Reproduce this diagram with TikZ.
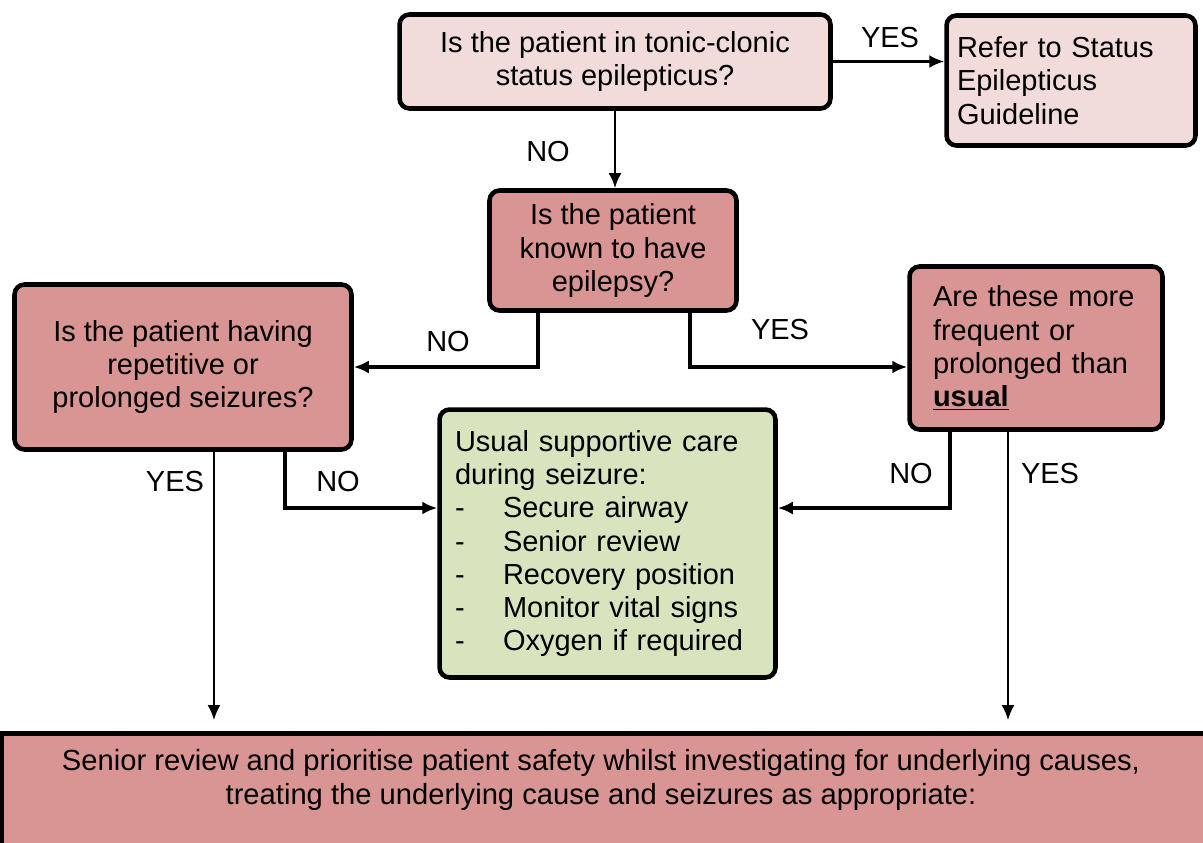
\documentclass[tikz,border=0pt]{standalone}
\usepackage{fontspec}
\setmainfont{Liberation Sans}
\usetikzlibrary{arrows.meta}
\definecolor{palepink}{HTML}{F2DCDB}
\definecolor{rosepink}{HTML}{D99594}
\definecolor{sagegreen}{HTML}{D7E4BD}
\tikzset{
    box/.style={draw, line width=2.6pt, rounded corners=0.2cm, inner sep=0pt,
        font=\fontsize{16.5}{18.9}\selectfont},
    question/.style={box, fill=rosepink, align=center},
    flow/.style={-{Latex[length=0.3cm,width=0.26cm]}, line width=1.6pt},
    boldflow/.style={flow, line width=2.3pt},
    thinflow/.style={flow, line width=1.1pt},
    answer/.style={font=\fontsize{16.5}{18.9}\selectfont}
}
\begin{document}
\begin{tikzpicture}[x=0.02cm, y=-0.02cm]
                \useasboundingbox (0,0) rectangle (1203,842);
                % Top question
                \node[box, fill=palepink, align=center, minimum width=8.62cm, minimum height=1.88cm]
                    (status) at (615,61.5) {Is the patient in tonic-clonic\\status epilepticus?};
                \node[box, fill=palepink, align=left, text width=4.56cm, inner xsep=0.21cm,
                    minimum height=2.6cm] (refer) at (1071,80.5) {Refer to Status\\Epilepticus\\Guideline};
                % Second question
                \node[question, minimum width=4.94cm, minimum height=2.4cm]
                    (known) at (613,250.5) {Is the patient\\known to have\\epilepsy?};
                \node[question, minimum width=6.74cm, minimum height=3.3cm]
                    (repeat) at (183,367) {Is the patient having\\repetitive or\\prolonged seizures?};
                \node[box, fill=rosepink, align=left, text width=4.12cm, inner xsep=0.47cm,
                    minimum height=3.26cm] (usual) at (1036,348)
                    {Are these more\\frequent or\\prolonged than\\\textbf{\underline{usual}}};
                % Supportive care
                \node[box, fill=sagegreen, align=left, text width=6.1cm, inner xsep=0.31cm,
                    minimum height=5.36cm] (care) at (607.5,543.5)
                    {Usual supportive care\\during seizure:\\
                    \makebox[0.96cm][l]{-}Secure airway\\
                    \makebox[0.96cm][l]{-}Senior review\\
                    \makebox[0.96cm][l]{-}Recovery position\\
                    \makebox[0.96cm][l]{-}Monitor vital signs\\
                    \makebox[0.96cm][l]{-}Oxygen if required};
                % Bottom box, runs off the page
                \node[draw, fill=rosepink, line width=2.6pt, anchor=north west, inner sep=0pt,
                    minimum width=24.4cm, minimum height=2.6cm] (review) at (-1,731) {};
                \node[font=\fontsize{16.6}{19.3}\selectfont, align=center]
                    (reviewtext) at (601,780)
                    {Senior review and prioritise patient safety whilst investigating for underlying causes,\\
                    treating the underlying cause and seizures as appropriate:};
                % Arrows
                \draw[flow] (status.east) -- (status.east -| refer.west);
                \draw[flow] (status.south) -- (status.south |- known.north);
                \draw[boldflow] ([xshift=1.01cm]known.south west) |- (repeat.east);
                \draw[boldflow] ([xshift=-0.97cm]known.south east) |- ([yshift=-0.38cm]usual.west);
                \draw[boldflow] ([xshift=-1.37cm]repeat.south east) |- ([yshift=0.71cm]care.west);
                \draw[thinflow, shorten >=0.22cm] ([xshift=0.62cm]repeat.south) -- ([xshift=0.62cm]repeat.south |- review.north);
                \draw[boldflow] ([xshift=-1.72cm]usual.south) |- ([yshift=0.71cm]care.east);
                \draw[thinflow, shorten >=0.22cm] ([xshift=-0.56cm]usual.south) -- ([xshift=-0.56cm]usual.south |- review.north);
                % Answers
                \node[answer] (yes1) at (890,38) {YES};
                \node[answer] (no1) at (548,152) {NO};
                \node[answer] (no2) at (448,342) {NO};
                \node[answer] (yes2) at (780,330) {YES};
                \node[answer] (yes3) at (175,482) {YES};
                \node[answer] (no3) at (338,482) {NO};
                \node[answer] (no4) at (911,474) {NO};
                \node[answer] (yes4) at (1050,474) {YES};
\end{tikzpicture}
\end{document}
